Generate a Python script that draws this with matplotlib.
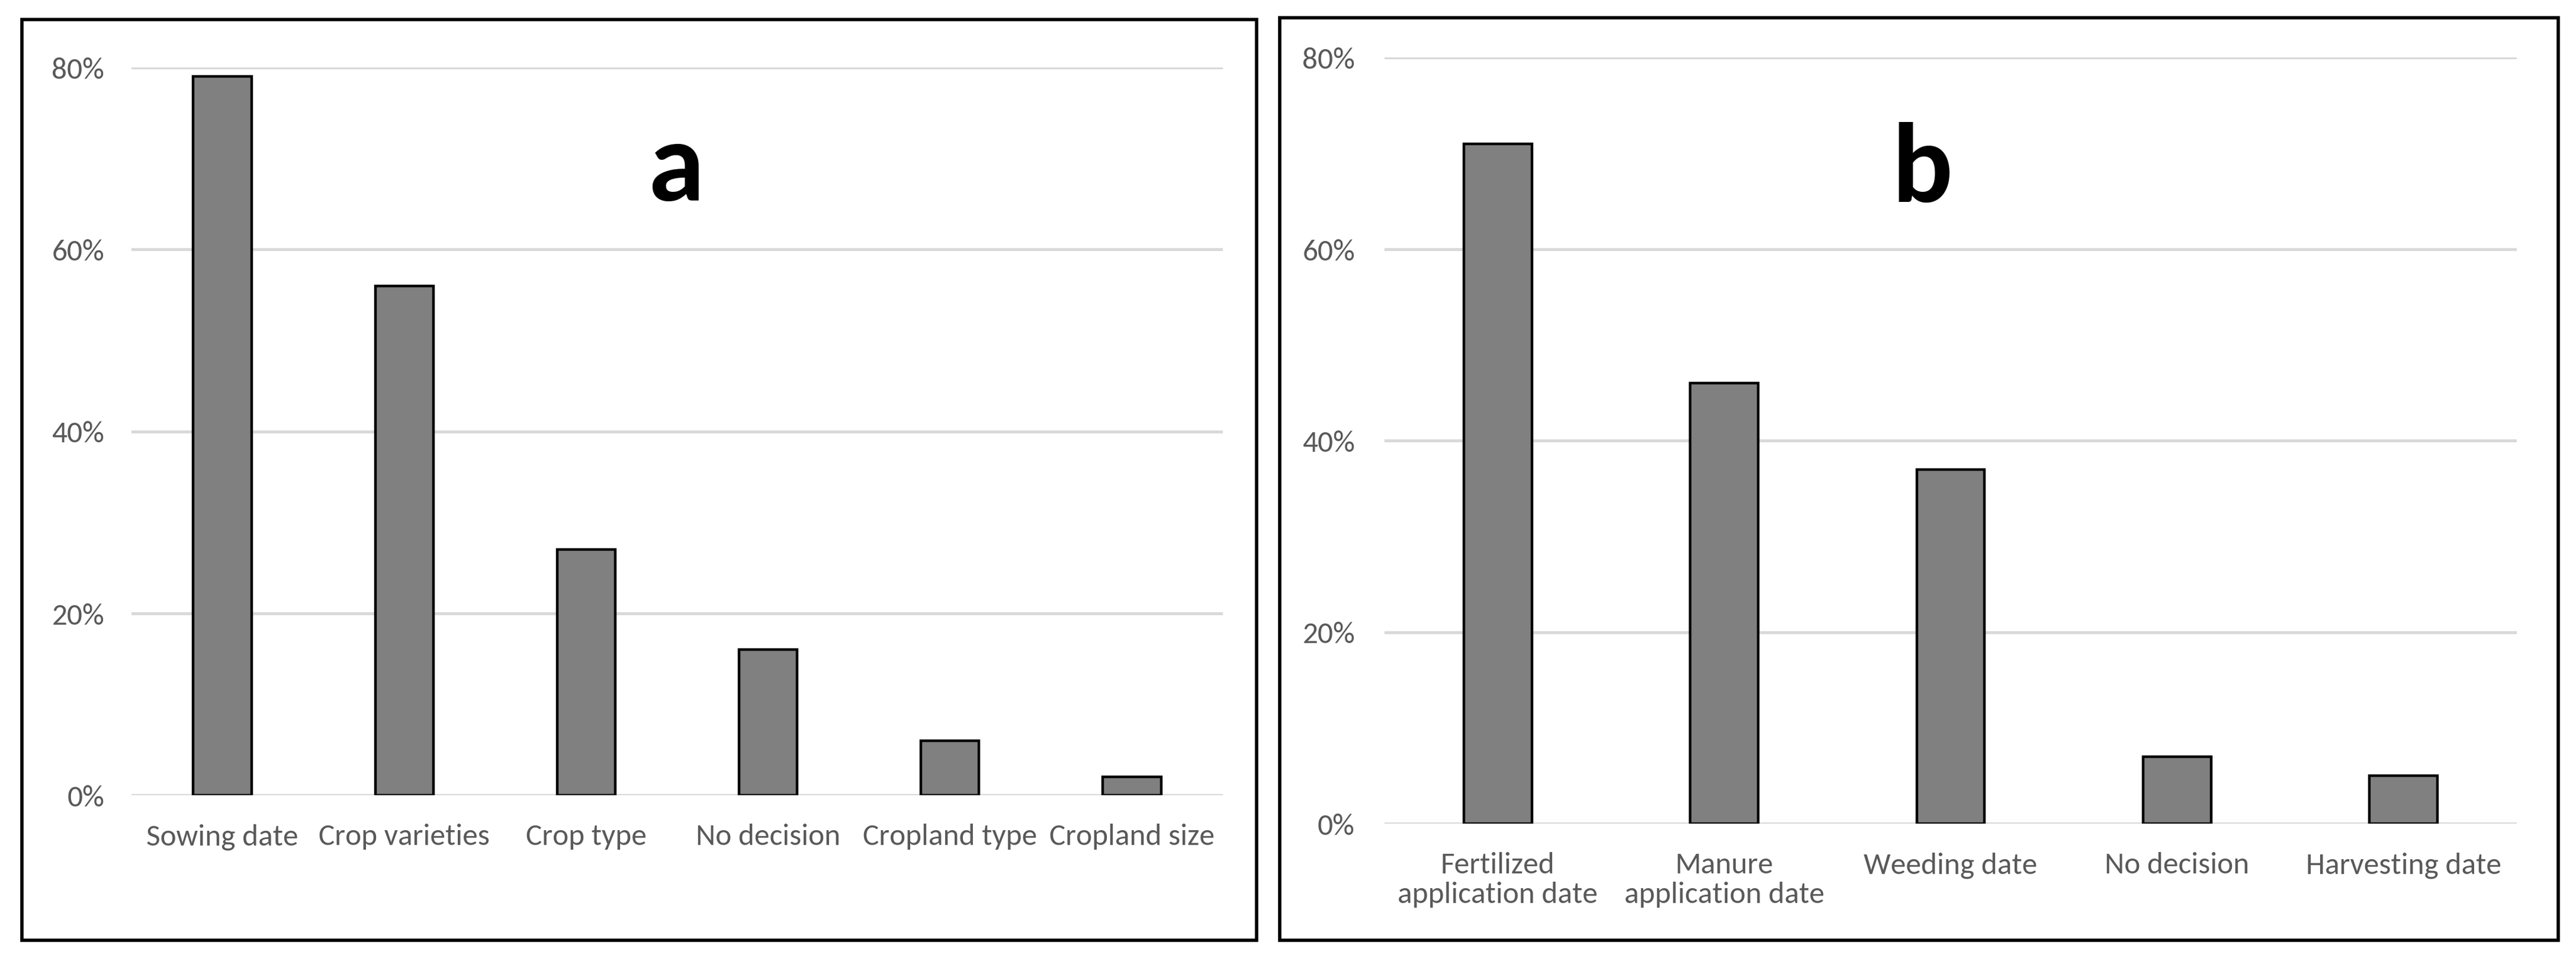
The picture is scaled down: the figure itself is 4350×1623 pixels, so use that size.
import matplotlib
matplotlib.use("Agg")
import matplotlib.pyplot as plt
from matplotlib.patches import Rectangle
from matplotlib.ticker import PercentFormatter
from matplotlib import font_manager

# ---- data ----
cats_a = ["Sowing date", "Crop varieties", "Crop type", "No decision",
          "Cropland type", "Cropland size"]
vals_a = [79, 56, 27, 16, 6, 2]

cats_b = ["Fertilized\napplication date", "Manure\napplication date",
          "Weeding date", "No decision", "Harvesting date"]
vals_b = [71, 46, 37, 7, 5]

yticks = [0, 20, 40, 60, 80]

names = {f.name for f in font_manager.fontManager.ttflist}
label_font = "Carlito" if "Carlito" in names else "Open Sans"
bold_font = "Carlito" if "Carlito" in names else "Liberation Sans"

W, H = 4350, 1624
fig = plt.figure(figsize=(W / 100, H / 100), dpi=100)
fig.patch.set_facecolor("white")


def frame(x0, y0, x1, y1):
    fig.patches.append(Rectangle((x0 / W, 1 - y1 / H), (x1 - x0) / W, (y1 - y0) / H,
                                 transform=fig.transFigure, fill=False,
                                 edgecolor="black", linewidth=4.0, zorder=0))


frame(37, 34, 2122, 1589)
frame(2161, 31, 4320, 1589)


def panel(rect, cats, vals, letter, letter_x, letter_y, barw, ypad):
    ax = fig.add_axes(rect)
    x = list(range(len(cats)))
    ax.bar(x, vals, width=barw, color="#808080", edgecolor="black",
           linewidth=3.2, zorder=3)
    ax.set_xlim(-0.5, len(cats) - 0.5)
    ax.set_ylim(0, 80)
    ax.set_yticks(yticks)
    ax.yaxis.set_major_formatter(PercentFormatter(decimals=0))
    for t in yticks:
        ax.axhline(t, color="#D9D9D9", linewidth=3.6, zorder=1)
    ax.set_xticks(x)
    ax.set_xticklabels(cats, linespacing=1.15)
    for s in ax.spines.values():
        s.set_visible(False)
    ax.tick_params(axis="both", length=0, labelsize=37, colors="#595959")
    ax.tick_params(axis="x", pad=34)
    ax.tick_params(axis="y", pad=ypad)
    for lab in ax.get_xticklabels() + ax.get_yticklabels():
        lab.set_fontfamily(label_font)
    ax.set_facecolor("none")
    ax.text(letter_x, letter_y, letter, transform=ax.get_yaxis_transform(),
            ha="center", va="baseline", fontsize=138, fontweight="bold",
            fontfamily=bold_font, color="black")
    return ax


panel([222 / W, 1 - 1344 / H, (2065 - 222) / W, (1344 - 115) / H],
      cats_a, vals_a, "a", 0.499, 65.4, 0.32, 33)
panel([2338 / W, 1 - 1392 / H, (4250 - 2338) / W, (1392 - 98) / H],
      cats_b, vals_b, "b", 0.475, 65.0, 0.30, 36)

fig.savefig("out.png", dpi=100, facecolor="white")
